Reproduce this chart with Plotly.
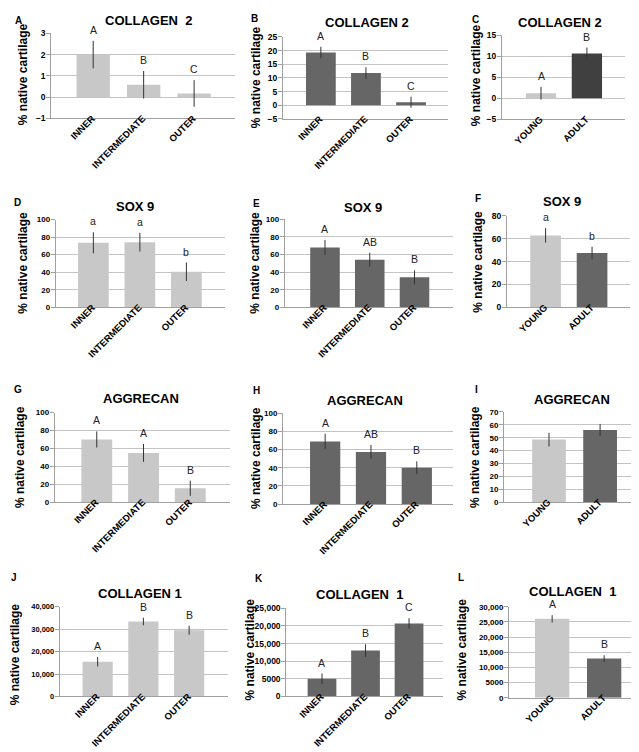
import plotly.graph_objects as go

W, H = 639, 752

zones = ["INNER", "INTERMEDIATE", "OUTER"]
ages = ["YOUNG", "ADULT"]

# Collagen 2
col2_zone_a = [2.0, 0.58, 0.17]
col2_zone_a_err = [0.65, 0.65, 0.63]
col2_zone_a_sig = ["A", "B", "C"]
col2_zone_b = [19.3, 11.8, 1.1]
col2_zone_b_err = [2.1, 2.1, 2.0]
col2_zone_b_sig = ["A", "B", "C"]
col2_age = [1.2, 10.7]
col2_age_err = [1.5, 1.4]
col2_age_sig = ["A", "B"]

# Sox 9
sox9_zone_d = [73.5, 74.2, 40.5]
sox9_zone_d_err = [12.0, 10.7, 10.5]
sox9_zone_d_sig = ["a", "a", "b"]
sox9_zone_e = [68, 54, 34]
sox9_zone_e_err = [8.5, 8.0, 8.0]
sox9_zone_e_sig = ["A", "AB", "B"]
sox9_age = [63, 47.5]
sox9_age_err = [6.3, 5.5]
sox9_age_sig = ["a", "b"]

# Aggrecan
agg_zone_g = [70, 55, 15.5]
agg_zone_g_err = [9.0, 10.0, 8.5]
agg_zone_g_sig = ["A", "A", "B"]
agg_zone_h = [69, 57.5, 40]
agg_zone_h_err = [8.5, 7.6, 7.0]
agg_zone_h_sig = ["A", "AB", "B"]
agg_age = [48.5, 56]
agg_age_err = [5.3, 4.7]
agg_age_sig = ["", ""]

# Collagen 1
col1_zone_j = [15500, 33400, 29500]
col1_zone_j_err = [2100, 1700, 2000]
col1_zone_j_sig = ["A", "B", "B"]
col1_zone_k = [5000, 13000, 20700]
col1_zone_k_err = [1500, 1800, 1500]
col1_zone_k_sig = ["A", "B", "C"]
col1_age = [26000, 12900]
col1_age_err = [1200, 1100]
col1_age_sig = ["A", "B"]

LIGHT = "#c8c8c8"
DARK = "#666666"
DARKER = "#404040"
FONT = "Arial, Liberation Sans, sans-serif"

# key, title, cats, vals, errs, sig, colors,
# x0, x1, ytop, ybot (px), yrange, dtick, xrange, title xy, letter xy, ytitle xy, tick size
panels = [
    ("A", "COLLAGEN\u00a0\u00a02", zones, col2_zone_a, col2_zone_a_err, col2_zone_a_sig, [LIGHT] * 3,
     43.3, 227, 20.7, 106.7, [-1, 3], 1, [-0.83, 2.81], (140, 8), (10, 8), (15, 62), 8.5),
    ("B", "COLLAGEN 2", zones, col2_zone_b, col2_zone_b_err, col2_zone_b_sig, [DARK] * 3,
     275, 440, 24.3, 107.3, [-5, 25], 5, [-0.84, 2.82], (359, 10), (247, 6), (248, 65), 8.5),
    ("C", "COLLAGEN 2", ages, col2_age, col2_age_err, col2_age_sig, [LIGHT, DARKER],
     494, 617, 22.7, 107.7, [-5, 15], 5, [-0.85, 1.83], (552, 10), (467, 7), (468, 63), 8.5),
    ("D", "SOX 9", zones, sox9_zone_d, sox9_zone_d_err, sox9_zone_d_sig, [LIGHT] * 3,
     47.7, 217, 209.3, 298.3, [0, 100], 20, [-0.81, 2.83], (127, 196), (9, 192), (15, 253), 8),
    ("E", "SOX 9", zones, sox9_zone_e, sox9_zone_e_err, sox9_zone_e_sig, [DARK] * 3,
     276.7, 445, 209, 298.3, [0, 100], 20, [-0.9, 2.86], (355, 197), (248, 193), (247, 253), 8),
    ("F", "SOX 9", ages, sox9_age, sox9_age_err, sox9_age_sig, [LIGHT, DARK],
     499, 621.7, 205.7, 298.3, [0, 80], 20, [-0.83, 1.81], (554, 191), (470, 188), (470, 252), 8.5),
    ("G", "AGGRECAN", zones, agg_zone_g, agg_zone_g_err, agg_zone_g_sig, [LIGHT] * 3,
     46.7, 222, 405, 495.7, [0, 100], 20, [-0.9, 2.85], (133, 391), (10, 382), (12, 450), 8),
    ("H", "AGGRECAN", zones, agg_zone_h, agg_zone_h_err, agg_zone_h_sig, [DARK] * 3,
     275, 445, 405.7, 497.7, [0, 100], 20, [-0.92, 2.79], (357, 393), (248, 383), (248, 451), 8),
    ("I", "AGGRECAN", ages, agg_age, agg_age_err, agg_age_sig, [LIGHT, DARK],
     496, 633, 404.3, 495.7, [0, 70], 10, [-0.88, 1.8], (564, 392), (468, 382), (467, 450), 8),
    ("J", "COLLAGEN 1", zones, col1_zone_j, col1_zone_j_err, col1_zone_j_sig, [LIGHT] * 3,
     51.7, 220, 601.7, 692.7, [0, 40000], 10000, [-0.83, 2.85], (132, 588), (6, 572), (7, 650), 7.5),
    ("K", "COLLAGEN\u00a0\u00a01", zones, col1_zone_k, col1_zone_k_err, col1_zone_k_sig, [DARK] * 3,
     278.3, 435, 603.3, 692.7, [0, 25000], 5000, [-0.82, 2.78], (351, 589), (251, 573), (242, 645), 8.5),
    ("L", "COLLAGEN\u00a0\u00a01", ages, col1_age, col1_age_err, col1_age_sig, [LIGHT, DARK],
     501, 636.7, 601.7, 694, [0, 30000], 5000, [-0.83, 1.78], (564, 586), (453, 572), (454, 645), 8),
]


def tick_label(v):
    if abs(v) >= 10000:
        return f"{v:,}"
    return str(v).replace("-", "\u2212")


fig = go.Figure()
annotations = []
layout = {}

for i, p in enumerate(panels):
    (key, title, cats, vals, errs, sig, colors,
     x0, x1, yt, yb, yr, dt, xr, txy, lxy, yxy, tsize) = p
    n = "" if i == 0 else str(i + 1)
    xa, ya = "x" + n, "y" + n

    fig.add_trace(go.Bar(
        x=cats, y=vals,
        marker=dict(color=colors, line=dict(width=0)),
        width=0.66,
        error_y=dict(type="data", array=errs, color="#333333", thickness=1, width=0),
        xaxis=xa, yaxis=ya,
        showlegend=False,
    ))

    tickvals = list(range(yr[0], yr[1] + 1, dt))
    layout["xaxis" + n] = dict(
        domain=[x0 / W, x1 / W], anchor=ya, range=xr,
        type="category", categoryorder="array", categoryarray=cats,
        showline=True, linecolor="#a0a0a0", linewidth=1,
        ticks="", tickangle=-45, ticklabelstandoff=-10, ticklabelshift=-1,
        tickfont=dict(family=FONT, size=9.5, color="#000", weight="bold"),
        showgrid=False, fixedrange=True,
    )
    layout["yaxis" + n] = dict(
        domain=[1 - yb / H, 1 - yt / H], anchor=xa, range=yr,
        tickvals=tickvals, ticktext=[tick_label(v) for v in tickvals],
        showline=True, linecolor="#a0a0a0", linewidth=1,
        ticks="outside", ticklen=4, tickcolor="#a0a0a0", ticklabelstandoff=-1,
        tickfont=dict(family=FONT, size=tsize, color="#000", weight="bold"),
        showgrid=True, gridcolor="#c4c4c4", gridwidth=1,
        zeroline=False, fixedrange=True,
    )

    annotations.append(dict(
        text=title, x=txy[0] / W, y=1 - txy[1] / H, xref="paper", yref="paper",
        showarrow=False, xanchor="center", yanchor="middle",
        font=dict(family=FONT, size=13, color="#000", weight="bold"),
    ))
    annotations.append(dict(
        text=key, x=lxy[0] / W, y=1 - lxy[1] / H, xref="paper", yref="paper",
        showarrow=False, xanchor="center", yanchor="middle",
        font=dict(family=FONT, size=10, color="#000", weight="bold"),
    ))
    annotations.append(dict(
        text="% native cartilage", x=yxy[0] / W, y=1 - yxy[1] / H,
        xref="paper", yref="paper", textangle=-90,
        showarrow=False, xanchor="center", yanchor="middle",
        font=dict(family=FONT, size=12, color="#000", weight="bold"),
    ))
    for c, v, e, s in zip(cats, vals, errs, sig):
        if s:
            annotations.append(dict(
                text=s, x=c, y=v + e, xref=xa, yref=ya,
                showarrow=False, xanchor="center", yanchor="bottom", yshift=3,
                font=dict(family=FONT, size=10.5, color="#222"),
            ))

fig.update_layout(
    width=W, height=H,
    margin=dict(l=0, r=0, t=0, b=0),
    paper_bgcolor="white", plot_bgcolor="white",
    annotations=annotations,
    bargap=0.34,
    **layout,
)

fig.write_html("out.html")
